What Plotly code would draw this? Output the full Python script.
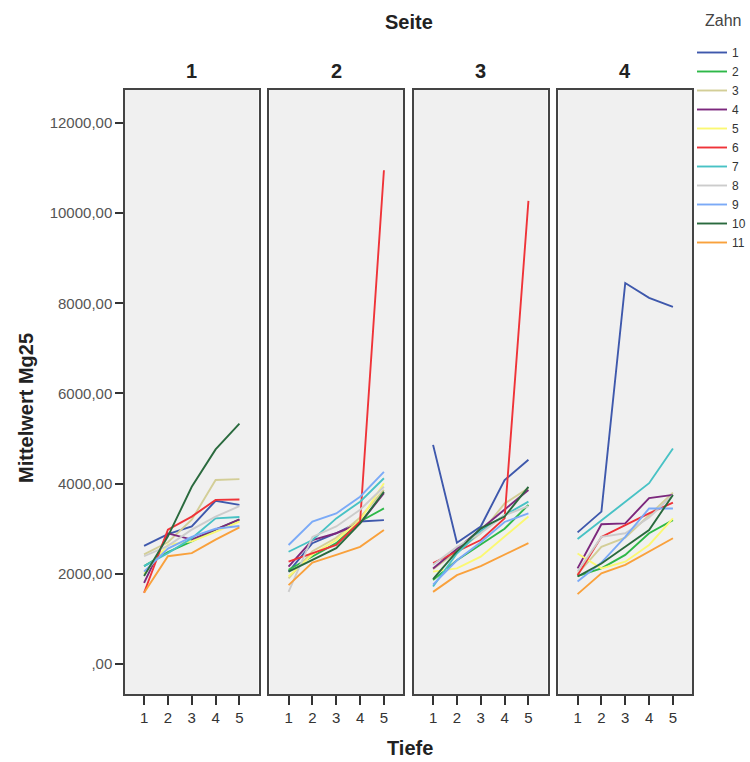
import plotly.graph_objects as go
from plotly.subplots import make_subplots

tiefe = [1, 2, 3, 4, 5]
seiten = ["1", "2", "3", "4"]
zahn = ["1", "2", "3", "4", "5", "6", "7", "8", "9", "10", "11"]
zahn_colors = ["#3E58AC", "#2EB848", "#D3CE97", "#7C287D", "#FBF873", "#EF3338",
               "#48C2C5", "#CCCCCC", "#7BAAF7", "#2A6A3E", "#F9A13C"]

seite1 = [
    [2620, 2880, 3050, 3620, 3530],
    [2170, 2480, 2720, 2980, 3200],
    [2430, 2700, 3200, 4080, 4100],
    [1800, 2900, 2760, 2980, 3210],
    [2000, 2650, 2720, 2930, 3160],
    [1580, 2980, 3270, 3640, 3650],
    [2170, 2460, 2790, 3230, 3260],
    [2390, 2620, 2980, 3270, 3500],
    [2050, 2560, 2820, 3000, 3060],
    [1950, 2830, 3930, 4760, 5330],
    [1580, 2390, 2460, 2760, 3030],
]
seite2 = [
    [2050, 2680, 2900, 3160, 3190],
    [2090, 2380, 2680, 3160, 3450],
    [1900, 2500, 2800, 3250, 3860],
    [2160, 2750, 2900, 3120, 3790],
    [1940, 2430, 2750, 3190, 4010],
    [2270, 2460, 2640, 3160, 10950],
    [2490, 2750, 3230, 3600, 4120],
    [1600, 2820, 3050, 3420, 3930],
    [2640, 3160, 3340, 3710, 4260],
    [2050, 2310, 2570, 3120, 3820],
    [1750, 2250, 2420, 2600, 2970],
]
seite3 = [
    [4860, 2690, 3050, 4080, 4530],
    [1860, 2300, 2650, 3000, 3530],
    [2100, 2500, 2900, 3560, 3900],
    [2120, 2550, 3000, 3420, 3860],
    [2050, 2120, 2380, 2830, 3270],
    [2240, 2500, 2750, 3230, 10270],
    [1720, 2450, 2950, 3300, 3600],
    [2200, 2600, 2900, 3300, 3500],
    [1760, 2300, 2700, 3150, 3340],
    [1880, 2500, 3010, 3270, 3930],
    [1600, 1970, 2170, 2420, 2680],
]
seite4 = [
    [2920, 3380, 8450, 8120, 7920],
    [1950, 2120, 2420, 2900, 3190],
    [2000, 2600, 2800, 3300, 3800],
    [2120, 3100, 3120, 3680, 3750],
    [2450, 2120, 2270, 2640, 3230],
    [1970, 2820, 3080, 3340, 3580],
    [2770, 3190, 3600, 4010, 4780],
    [2050, 2820, 2900, 3250, 3750],
    [1830, 2250, 2820, 3450, 3450],
    [1940, 2230, 2600, 2970, 3750],
    [1550, 2010, 2200, 2490, 2790],
]
y_tickvals = [0, 2000, 4000, 6000, 8000, 10000, 12000]
y_ticktext = [",00", "2000,00", "4000,00", "6000,00", "8000,00", "10000,00", "12000,00"]

FONT = "Liberation Sans, Arial, sans-serif"
W, H = 750, 762
L, R, T, B = 125, 58, 90, 68
pw, ph = W - L - R, H - T - B


def px_x(px):
    return (px - L) / pw


def px_y(py):
    return (H - B - py) / ph


fig = make_subplots(rows=1, cols=4, shared_yaxes=True, horizontal_spacing=0.0194)

for ci, data in enumerate([seite1, seite2, seite3, seite4]):
    for zi, vals in enumerate(data):
        fig.add_trace(go.Scatter(
            x=tiefe, y=vals, mode="lines", name=zahn[zi],
            line=dict(color=zahn_colors[zi], width=1.9),
            legendgroup=zahn[zi], showlegend=(ci == 0),
        ), row=1, col=ci + 1)

for ci in range(4):
    fig.update_xaxes(row=1, col=ci + 1, range=[0.2, 5.8], tickvals=tiefe,
                     ticks="outside", ticklen=9, tickcolor="#333", tickwidth=1.5,
                     showline=True, linecolor="#444", linewidth=1.5, mirror=True,
                     showgrid=False, zeroline=False,
                     tickfont=dict(family=FONT, size=15, color="#333"))
    fig.update_yaxes(row=1, col=ci + 1, range=[-665, 12730],
                     tickvals=y_tickvals, ticktext=y_ticktext,
                     ticks="outside" if ci == 0 else "", ticklen=8, tickcolor="#333",
                     tickwidth=1.5, showticklabels=(ci == 0),
                     showline=True, linecolor="#444", linewidth=1.5, mirror=True,
                     showgrid=False, zeroline=False,
                     tickfont=dict(family=FONT, size=15, color="#555"))

for ci, s in enumerate(seiten):
    dom = fig.layout["xaxis" + ("" if ci == 0 else str(ci + 1))].domain
    fig.add_annotation(text="<b>%s</b>" % s, x=(dom[0] + dom[1]) / 2, y=px_y(71),
                       xref="paper", yref="paper", showarrow=False,
                       xanchor="center", yanchor="middle",
                       font=dict(family=FONT, size=20, color="#222"))
fig.add_annotation(text="<b>Seite</b>", x=px_x(409), y=px_y(22), xref="paper", yref="paper",
                   showarrow=False, xanchor="center", yanchor="middle",
                   font=dict(family=FONT, size=20, color="#222"))
fig.add_annotation(text="<b>Tiefe</b>", x=px_x(410), y=px_y(748), xref="paper", yref="paper",
                   showarrow=False, xanchor="center", yanchor="middle",
                   font=dict(family=FONT, size=20, color="#222"))
fig.add_annotation(text="<b>Mittelwert Mg25</b>", x=px_x(26), y=px_y(408), xref="paper",
                   yref="paper", showarrow=False, textangle=-90,
                   xanchor="center", yanchor="middle",
                   font=dict(family=FONT, size=20, color="#222"))
fig.add_annotation(text="Zahn", x=px_x(723), y=px_y(21), xref="paper", yref="paper",
                   showarrow=False, xanchor="center", yanchor="middle",
                   font=dict(family=FONT, size=16, color="#444"))

fig.update_layout(
    width=W, height=H,
    margin=dict(l=L, r=R, t=T, b=B, autoexpand=False),
    paper_bgcolor="white", plot_bgcolor="#F0F0F0",
    font=dict(family=FONT, size=12, color="#333"),
    showlegend=True,
    legend=dict(xref="container", yref="container", x=692 / W, y=1 - 38 / H,
                xanchor="left", yanchor="top",
                font=dict(family=FONT, size=12, color="#333"),
                tracegroupgap=0, itemwidth=30, bgcolor="rgba(0,0,0,0)"),
)

fig.write_html("out.html")
